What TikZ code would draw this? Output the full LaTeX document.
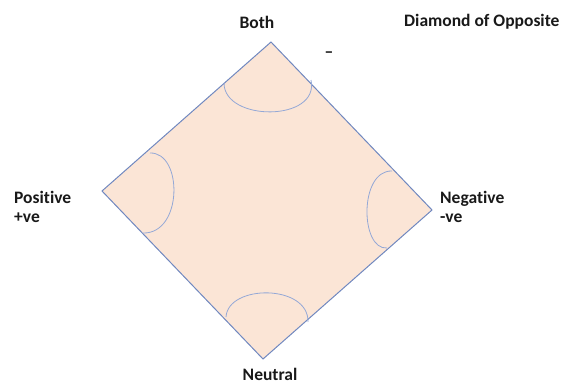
\documentclass[tikz,border=0pt]{standalone}
\usepackage{fontspec}
\setmainfont[Ligatures=NoCommon]{Carlito}
\usetikzlibrary{positioning}
\definecolor{peach}{RGB}{251,229,214}
\definecolor{edgeblue}{RGB}{112,136,192}
\definecolor{arcblue}{RGB}{148,168,214}

\begin{document}
\begin{tikzpicture}[
    x=1pt, y=-1pt,
    every node/.style={font=\fontsize{17.5}{19}\selectfont\bfseries, text=black!90, inner sep=0pt},
    face/.style={fill=peach, draw=edgeblue, line width=1pt},
    bulge/.style={draw=arcblue, line width=0.8pt}
]
    \useasboundingbox (0,0) rectangle (564,385);

    % --- Ecken der Raute ---
    \coordinate (top) at (271,42);
    \coordinate (right) at (432,210);
    \coordinate (bottom) at (263,359);
    \coordinate (left) at (102,191);
    \draw[face] (top) -- (right) -- (bottom) -- (left) -- cycle;

    % --- Boegen in den Ecken ---
    \draw[bulge] (224,83) .. controls (224,122) and (320,122) .. (311,80);
    \draw[bulge] (150,153) .. controls (183,152) and (183,234) .. (143,233);
    \draw[bulge] (392,171) .. controls (359,170) and (360,250) .. (387,248);
    \draw[bulge] (226,317) .. controls (228,284) and (309,284) .. (308,322);

    % --- Beschriftungen ---
    \node[anchor=base] (both) at (257,29) {Both};
    \node[anchor=base west] (title) at (404,27) {Diamond of Opposite};
    \node[anchor=base] (dash) at (329,58) {–};
    \node[anchor=north west, align=left] (pos) at (14,191) {Positive\\+ve};
    \node[anchor=north west, align=left] (neg) at (440,191) {Negative\\-ve};
    \node[anchor=base] (neutral) at (270,380) {Neutral};
\end{tikzpicture}
\end{document}
